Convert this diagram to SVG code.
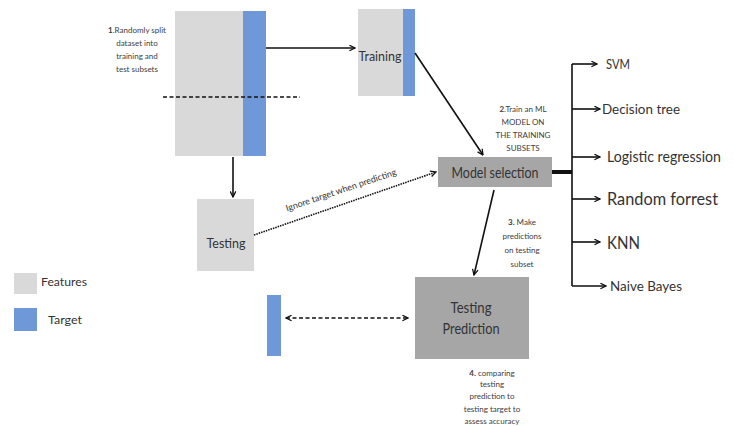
<svg xmlns="http://www.w3.org/2000/svg" width="734" height="426" viewBox="0 0 734 426">
<defs>
<marker id="ah" viewBox="0 0 10 10" refX="9" refY="5" markerWidth="7" markerHeight="7" markerUnits="userSpaceOnUse" orient="auto-start-reverse">
<path d="M1,1 L9,5 L1,9" fill="none" stroke="#111" stroke-width="1.8"/>
</marker>
<style>
.feat{fill:#d9d9d9}
.targ{fill:#6f98d9}
.dark{fill:#a6a6a6}
.t{font-family:Lato,"Liberation Sans",sans-serif;fill:#333}
.s{font-family:Lato,"Liberation Sans",sans-serif;fill:#404040;font-size:8px;text-anchor:middle}
.ln{stroke:#111;stroke-width:1.6;fill:none}
</style>
</defs>
<rect width="734" height="426" fill="#fff"/>

<g id="dataset">
<rect class="feat" x="175" y="11" width="68" height="145"/>
<rect class="targ" x="243" y="11" width="23" height="145"/>
<line x1="163" y1="97" x2="300" y2="97" stroke="#111" stroke-width="1.6" stroke-dasharray="4,2.5"/>
<text class="s" x="137" y="33"><tspan font-weight="bold">1</tspan>.Randomly split</text>
<text class="s" x="137" y="46">dataset into</text>
<text class="s" x="137" y="59">training and</text>
<text class="s" x="137" y="72">test subsets</text>
</g>

<g id="training">
<rect class="feat" x="358" y="9" width="45" height="87"/>
<rect class="targ" x="403" y="9" width="12" height="87"/>
<text class="t" x="380" y="61" font-size="14" text-anchor="middle" textLength="43" lengthAdjust="spacingAndGlyphs">Training</text>
</g>

<g id="model-selection">
<rect class="dark" x="438" y="157" width="114" height="30"/>
<text class="t" x="495" y="178" font-size="14.5" text-anchor="middle" textLength="87" lengthAdjust="spacingAndGlyphs">Model selection</text>
<text class="s" x="523" y="112"><tspan font-weight="bold">2</tspan>.Train an ML</text>
<text class="s" x="523" y="125">MODEL ON</text>
<text class="s" x="523" y="138">THE TRAINING</text>
<text class="s" x="523" y="151">SUBSETS</text>
</g>

<g id="testing">
<rect class="feat" x="197" y="199" width="57" height="72"/>
<text class="t" x="226" y="248" font-size="14" text-anchor="middle" textLength="39" lengthAdjust="spacingAndGlyphs">Testing</text>
</g>

<g id="testing-prediction">
<rect class="dark" x="415" y="277" width="114" height="82"/>
<text class="t" x="471" y="313" font-size="15" text-anchor="middle" textLength="41" lengthAdjust="spacingAndGlyphs">Testing</text>
<text class="t" x="471" y="334" font-size="15" text-anchor="middle" textLength="57" lengthAdjust="spacingAndGlyphs">Prediction</text>
<text class="s" x="522" y="225"><tspan font-weight="bold">3.</tspan> Make</text>
<text class="s" x="522" y="239">predictions</text>
<text class="s" x="522" y="253">on testing</text>
<text class="s" x="522" y="267">subset</text>
<text class="s" x="492" y="376"><tspan font-weight="bold">4.</tspan> comparing</text>
<text class="s" x="492" y="387">testing</text>
<text class="s" x="492" y="399">prediction to</text>
<text class="s" x="492" y="412">testing target  to</text>
<text class="s" x="492" y="424">assess accuracy</text>
</g>

<g id="test-target">
<rect class="targ" x="267" y="295" width="14" height="61"/>
</g>

<g id="algorithms" class="t">
<text x="606" y="69" font-size="13" textLength="24" lengthAdjust="spacingAndGlyphs">SVM</text>
<text x="602" y="114" font-size="14" textLength="78" lengthAdjust="spacingAndGlyphs">Decision tree</text>
<text x="607" y="162" font-size="15" textLength="114" lengthAdjust="spacingAndGlyphs">Logistic regression</text>
<text x="607" y="205" font-size="18" textLength="111" lengthAdjust="spacingAndGlyphs">Random forrest</text>
<text x="607" y="249" font-size="18" textLength="33" lengthAdjust="spacingAndGlyphs">KNN</text>
<text x="610" y="291" font-size="14" textLength="72" lengthAdjust="spacingAndGlyphs">Naive Bayes</text>
</g>

<g id="legend">
<rect class="feat" x="14" y="273" width="23" height="21"/>
<text class="t" x="41" y="286" font-size="12" textLength="46" lengthAdjust="spacingAndGlyphs">Features</text>
<rect class="targ" x="14" y="308" width="23" height="23"/>
<text class="t" x="48" y="324" font-size="12" textLength="34" lengthAdjust="spacingAndGlyphs">Target</text>
</g>

<g id="connectors">
<line class="ln" x1="266" y1="48" x2="355" y2="48" marker-end="url(#ah)"/>
<line class="ln" x1="415" y1="53" x2="483" y2="155" marker-end="url(#ah)"/>
<line class="ln" x1="233" y1="157" x2="233" y2="197" marker-end="url(#ah)"/>
<line x1="254" y1="235" x2="436" y2="172" stroke="#111" stroke-width="1.6" stroke-dasharray="1.5,1" marker-end="url(#ah)"/>
<text class="t" x="342" y="193" font-size="9" text-anchor="middle" fill="#404040" transform="rotate(-18.5 342 193)" textLength="116" lengthAdjust="spacingAndGlyphs">Ignore target when predicting</text>
<line class="ln" x1="494" y1="190" x2="474" y2="275" marker-end="url(#ah)"/>
<line x1="286" y1="318" x2="408" y2="318" stroke="#111" stroke-width="1.6" stroke-dasharray="4,2.5" marker-start="url(#ah)" marker-end="url(#ah)"/>
<line x1="552" y1="172" x2="572" y2="172" stroke="#111" stroke-width="4"/>
<line class="ln" x1="572" y1="64" x2="572" y2="286"/>
<line class="ln" x1="572" y1="64" x2="597" y2="64" marker-end="url(#ah)"/>
<line class="ln" x1="572" y1="109" x2="600" y2="109" marker-end="url(#ah)"/>
<line class="ln" x1="572" y1="157" x2="600" y2="157" marker-end="url(#ah)"/>
<line class="ln" x1="572" y1="199" x2="600" y2="199" marker-end="url(#ah)"/>
<line class="ln" x1="572" y1="242" x2="600" y2="242" marker-end="url(#ah)"/>
<line class="ln" x1="572" y1="286" x2="606" y2="286" marker-end="url(#ah)"/>
</g>
</svg>
